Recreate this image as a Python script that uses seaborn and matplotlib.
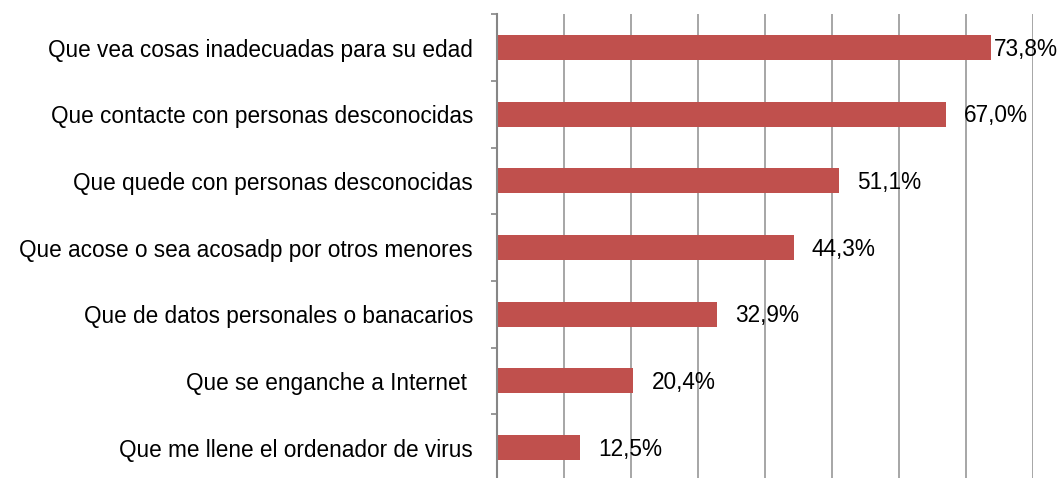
import matplotlib
matplotlib.use("Agg")
import matplotlib.pyplot as plt
import seaborn as sns
import pandas as pd
import numpy as np

categories = [
    "Que vea cosas inadecuadas para su edad",
    "Que contacte con personas desconocidas",
    "Que quede con personas desconocidas",
    "Que acose o sea acosadp por otros menores",
    "Que de datos personales o banacarios",
    "Que se enganche a Internet ",
    "Que me llene el ordenador de virus",
]
values = [73.8, 67.0, 51.1, 44.3, 32.9, 20.4, 12.5]
value_labels = ["73,8%", "67,0%", "51,1%", "44,3%", "32,9%", "20,4%", "12,5%"]

sns.set_theme(style="white")
plt.rcParams["font.family"] = ["Liberation Sans", "DejaVu Sans"]

df = pd.DataFrame({"cat": categories, "val": values})

DPI = 100
FS = 16.3
fig = plt.figure(figsize=(10.64, 4.78), dpi=DPI)
ax = fig.add_axes([496.7 / 1064, 1 - 481 / 478, (1033 - 496.7) / 1064, (481 - 14.3) / 478])

sns.barplot(data=df, x="val", y="cat", orient="h", color="#C0504D", saturation=1,
            width=0.375, edgecolor="none", ax=ax)

ax.set_xlim(0, 80)
ax.set_ylim(len(categories) - 0.5, -0.5)
ax.set_xlabel("")
ax.set_ylabel("")

# gridlines
ax.set_xticks(np.arange(0, 81, 10))
ax.set_xticklabels([])
ax.tick_params(axis="x", length=0)
ax.xaxis.grid(True, color="#a6a6a6", linewidth=1.4)
ax.set_axisbelow(True)

# y ticks at boundaries, labels at centers
ax.set_yticks(np.arange(-0.5, len(categories), 1.0))
ax.set_yticklabels([])
ax.set_yticks(np.arange(len(categories)), minor=True)
ax.set_yticklabels(categories, minor=True, fontsize=FS, color="black")
ax.tick_params(axis="y", which="major", direction="out", length=4.5, width=1.2,
               color="#868686", left=True)
ax.tick_params(axis="y", which="minor", length=0, pad=17)

for s in ["top", "right", "bottom"]:
    ax.spines[s].set_visible(False)
ax.spines["left"].set_color("#868686")
ax.spines["left"].set_linewidth(1.5)

fig.canvas.draw()
renderer = fig.canvas.get_renderer()
W = fig.get_figwidth() * DPI
for i, (v, lab) in enumerate(zip(values, value_labels)):
    t = ax.annotate(lab, xy=(v, i), xytext=(13, -1), textcoords="offset points",
                    va="center", ha="left", fontsize=FS, color="black",
                    annotation_clip=False)
    bb = t.get_window_extent(renderer)
    if bb.x1 > W - 6:
        shift = (bb.x1 - (W - 6)) * 72 / DPI
        t.set_position((max(13 - shift, 0.5), -1))

fig.savefig("out.png", dpi=DPI)
